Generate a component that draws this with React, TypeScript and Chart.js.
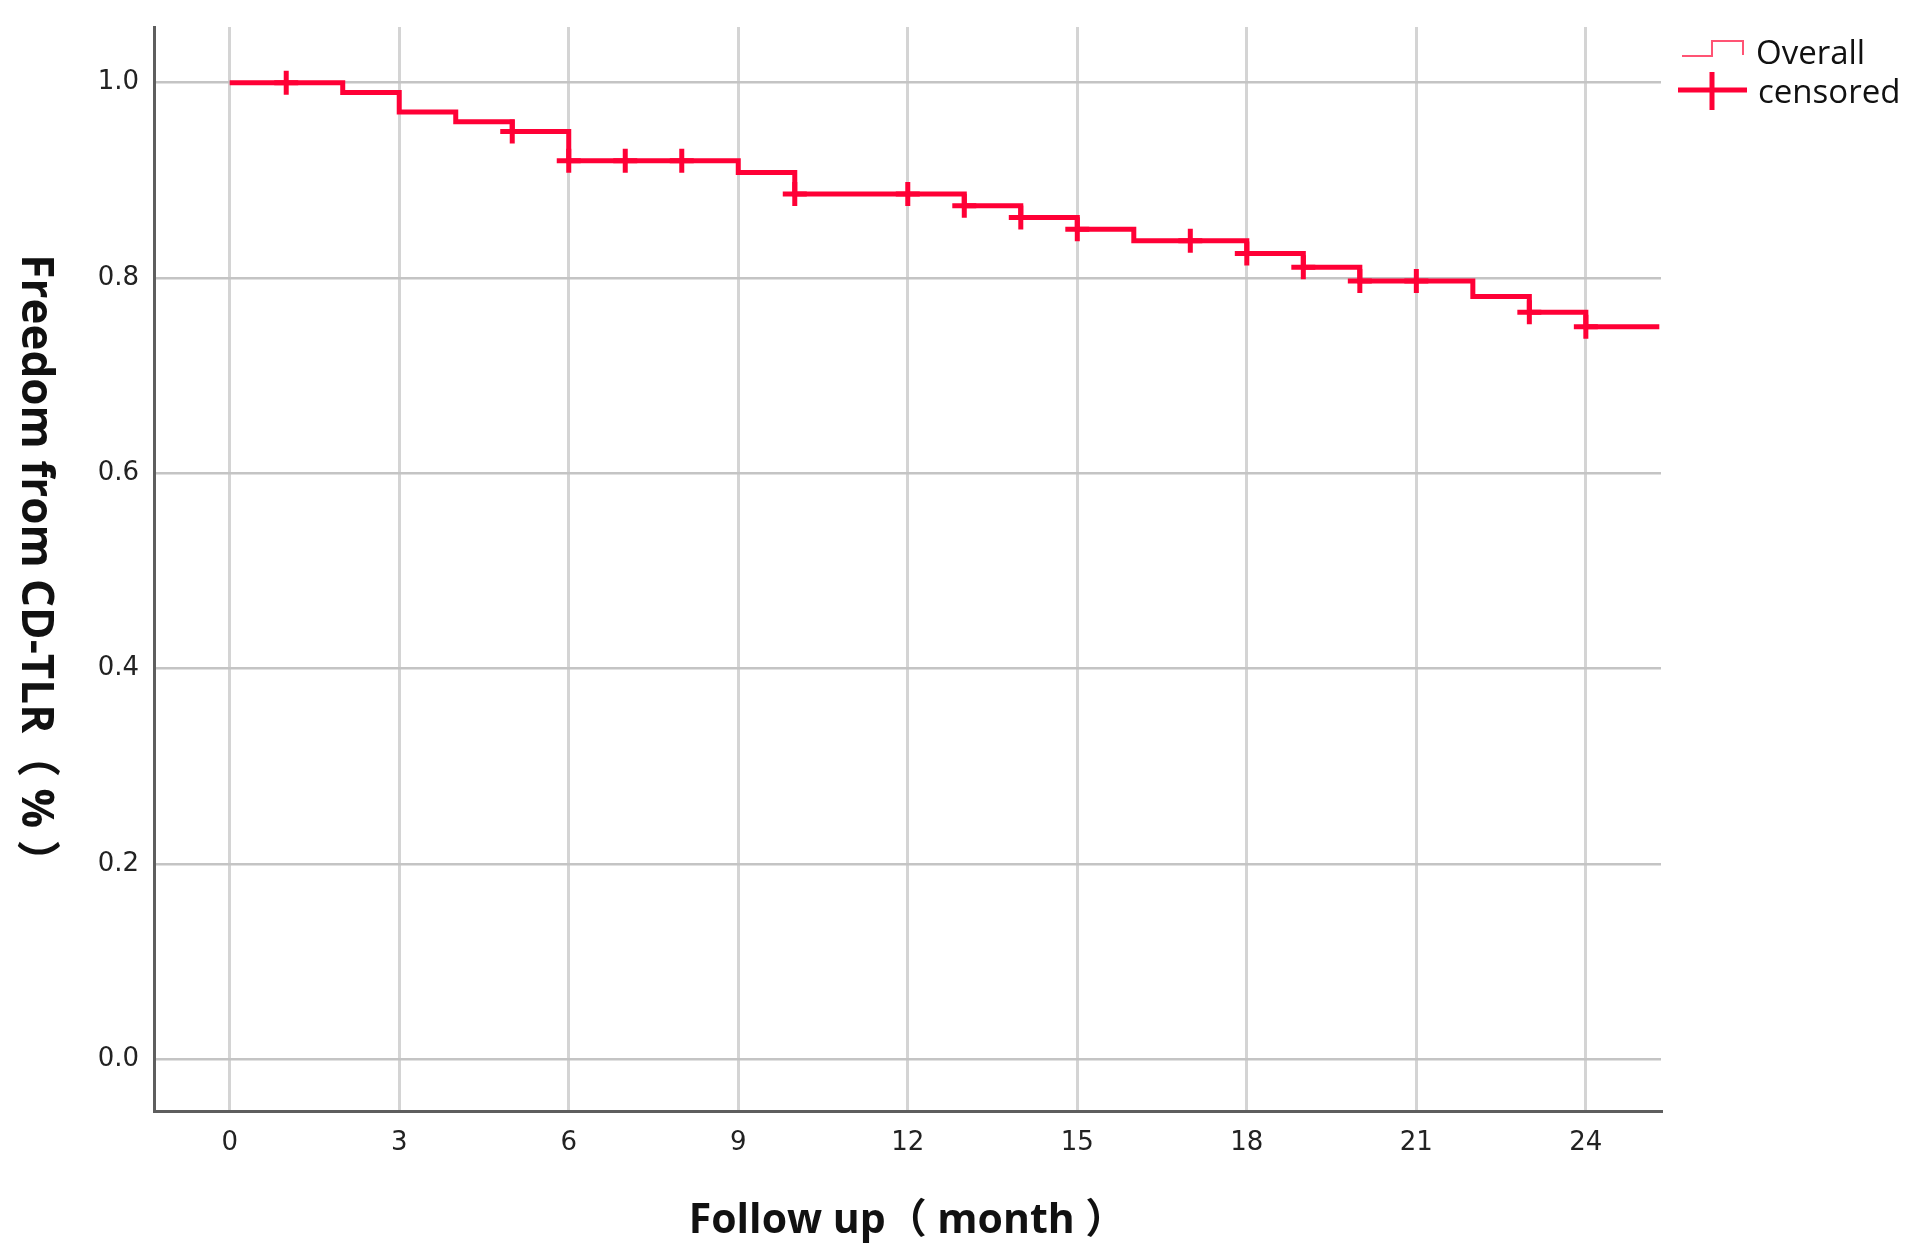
import React, { useEffect, useRef } from "react";
import { Chart, registerables } from "chart.js";

Chart.register(...registerables);

// ---- data ----
const stepTimes = [0, 2, 3, 4, 5, 6, 9, 10, 13, 14, 15, 16, 18, 19, 20, 22, 23, 24];
const survival = [1.0, 0.99, 0.97, 0.96, 0.95, 0.92, 0.908, 0.886, 0.874, 0.862, 0.85, 0.838, 0.825, 0.811, 0.797, 0.781, 0.765, 0.75];
const lastFollowUp = 25.3;
const censorTimes = [1, 5, 6, 7, 8, 10, 12, 13, 14, 15, 17, 18, 19, 20, 21, 23, 24];
const censorValues = [1.0, 0.95, 0.92, 0.92, 0.92, 0.886, 0.886, 0.874, 0.862, 0.85, 0.838, 0.825, 0.811, 0.797, 0.797, 0.765, 0.75];
const xTickValues = [0, 3, 6, 9, 12, 15, 18, 21, 24];
const yTickValues = [0, 0.2, 0.4, 0.6, 0.8, 1.0];
const xTitle = "Follow up（ month ）";
const yTitle = "Freedom from CD-TLR（ % ）";
const seriesLabel = "Overall";
const censorLabel = "censored";

const RED = "#ff0036";
const TICK_FONT = { family: "'DejaVu Sans', sans-serif", size: 26 };
const TITLE_FAMILY = "'Open Sans', 'Noto Sans CJK SC', sans-serif";

const legendPlugin = {
  id: "kmLegend",
  afterDraw(chart: any) {
    const { ctx, chartArea } = chart;
    const x0 = chartArea.right + 21;
    ctx.save();
    // Overall: thin step icon
    ctx.strokeStyle = "#ff5474";
    ctx.lineWidth = 2;
    ctx.beginPath();
    ctx.moveTo(x0, 56);
    ctx.lineTo(x0 + 30, 56);
    ctx.lineTo(x0 + 30, 41);
    ctx.lineTo(x0 + 61, 41);
    ctx.lineTo(x0 + 61, 55);
    ctx.stroke();
    // censored: thick cross icon
    ctx.strokeStyle = RED;
    ctx.lineWidth = 5;
    ctx.beginPath();
    ctx.moveTo(x0 - 4, 90);
    ctx.lineTo(x0 + 65, 90);
    ctx.moveTo(x0 + 30, 72);
    ctx.lineTo(x0 + 30, 110);
    ctx.stroke();
    ctx.fillStyle = "#111";
    ctx.font = "33px 'Open Sans', sans-serif";
    ctx.textAlign = "left";
    ctx.textBaseline = "alphabetic";
    ctx.fillText(seriesLabel, x0 + 74, 64);
    ctx.fillText(censorLabel, x0 + 76, 103);
    ctx.restore();
  },
};

// y-axis title reads top-to-bottom (rotated clockwise) as in the reference
const yTitlePlugin = {
  id: "yTitleCW",
  afterDraw(chart: any) {
    const { ctx, chartArea } = chart;
    ctx.save();
    ctx.translate(22, (chartArea.top + chartArea.bottom) / 2);
    ctx.rotate(Math.PI / 2);
    ctx.font = `bold 44px ${TITLE_FAMILY}`;
    ctx.fillStyle = "#111";
    ctx.textAlign = "center";
    ctx.textBaseline = "alphabetic";
    ctx.fillText(yTitle, 0, 0);
    ctx.restore();
  },
};

export default function App() {
  const ref = useRef<HTMLCanvasElement>(null);

  useEffect(() => {
    if (!ref.current) return;
    const linePoints = stepTimes.map((t, i) => ({ x: t, y: survival[i] }));
    linePoints.push({ x: lastFollowUp, y: survival[survival.length - 1] });
    const censorPoints = censorTimes.map((t, i) => ({ x: t, y: censorValues[i] }));

    const chart = new Chart(ref.current, {
      type: "line",
      data: {
        datasets: [
          {
            label: seriesLabel,
            data: linePoints,
            stepped: "before",
            borderColor: RED,
            borderWidth: 5,
            pointRadius: 0,
            fill: false,
            order: 2,
          },
          {
            label: censorLabel,
            data: censorPoints,
            showLine: false,
            pointStyle: "cross",
            pointRadius: 12,
            pointBorderWidth: 5,
            pointBorderColor: RED,
            pointBackgroundColor: RED,
            borderColor: RED,
            order: 1,
          },
        ],
      },
      options: {
        animation: false,
        responsive: false,
        layout: { padding: { top: 27, right: 254, left: 0, bottom: 0 } },
        plugins: { legend: { display: false }, tooltip: { enabled: false } },
        scales: {
          x: {
            type: "linear",
            min: -1.34,
            max: 25.33,
            afterBuildTicks: (s: any) => {
              s.ticks = xTickValues.map((v) => ({ value: v }));
            },
            afterFit: (s: any) => {
              s.height = 149;
              s.paddingLeft = 0;
              s.paddingRight = 0;
            },
            ticks: {
              font: TICK_FONT,
              color: "#222",
              padding: 17,
              maxRotation: 0,
              autoSkip: false,
              callback: (v: any) => String(v),
            },
            grid: { color: "#d4d4d4", lineWidth: 3, drawTicks: false },
            border: { display: true, color: "#5e5e5e", width: 3 },
            title: {
              display: true,
              text: xTitle,
              color: "#111",
              font: { family: TITLE_FAMILY, size: 41, weight: "bold" },
              padding: { top: 0, bottom: 14 },
            },
          },
          y: {
            type: "linear",
            min: -0.053,
            max: 1.057,
            afterBuildTicks: (s: any) => {
              s.ticks = yTickValues.map((v) => ({ value: v }));
            },
            afterFit: (s: any) => {
              s.width = 154;
              s.paddingTop = 0;
              s.paddingBottom = 0;
            },
            ticks: {
              font: TICK_FONT,
              color: "#222",
              padding: 15,
              autoSkip: false,
              callback: (v: any) => Number(v).toFixed(1),
            },
            grid: { color: "#c4c4c4", lineWidth: 2.5, drawTicks: false },
            border: { display: true, color: "#5e5e5e", width: 3 },
            title: { display: false },
          },
        },
      },
      plugins: [legendPlugin, yTitlePlugin],
    } as any);

    return () => chart.destroy();
  }, []);

  return (
    <div style={{ position: "absolute", left: 0, top: 0, width: 1915, height: 1260, background: "#fff" }}>
      <canvas ref={ref} width={1915} height={1260} />
    </div>
  );
}
